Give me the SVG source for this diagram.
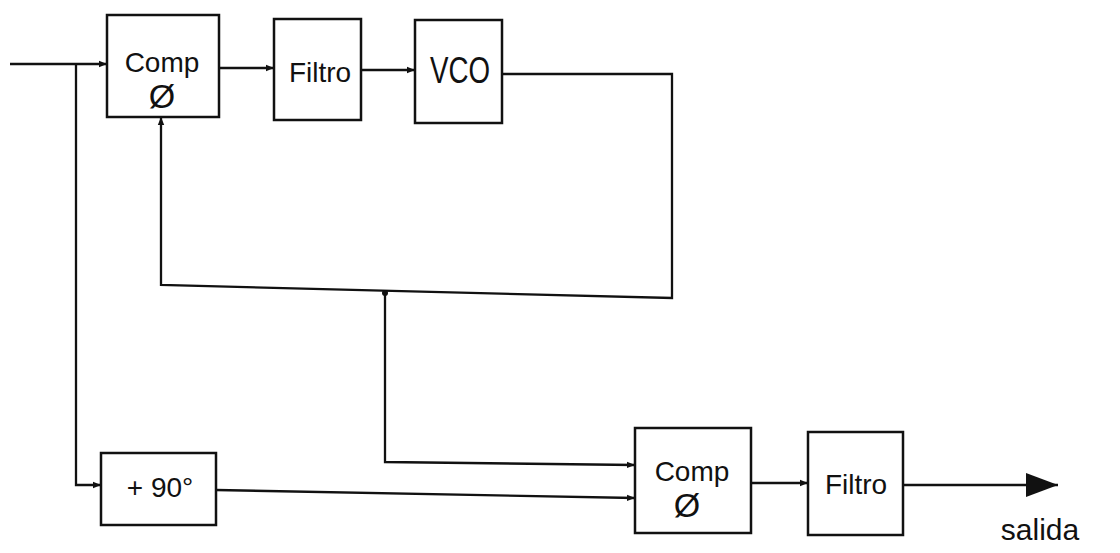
<svg xmlns="http://www.w3.org/2000/svg" width="1120" height="553" viewBox="0 0 1120 553">
<defs>
<marker id="arr" viewBox="0 0 10 10" refX="10" refY="5" markerWidth="8" markerHeight="8" markerUnits="userSpaceOnUse" orient="auto">
<path d="M0,1 L10,5 L0,9 Z" fill="#111"/>
</marker>
<marker id="big" viewBox="0 0 10 10" refX="10" refY="5" markerWidth="32" markerHeight="24" markerUnits="userSpaceOnUse" orient="auto" preserveAspectRatio="none">
<path d="M0,0 L10,5 L0,10 Z" fill="#111"/>
</marker>
<style>
.box{fill:#fff;stroke:#111;stroke-width:2.5}
.ln{fill:none;stroke:#111;stroke-width:2.3}
.t{font-family:"Liberation Sans",Arial,sans-serif;fill:#111;text-anchor:middle}
</style>
</defs>
<rect width="1120" height="553" fill="#fff"/>
<g id="connectors">
<path class="ln" d="M10,64 L107,64" marker-end="url(#arr)"/>
<path class="ln" d="M76,64 L76,485 L101,485" marker-end="url(#arr)"/>
<path class="ln" d="M219,68 L274,68" marker-end="url(#arr)"/>
<path class="ln" d="M361,70 L415,70" marker-end="url(#arr)"/>
<path class="ln" d="M502,74 L672,74 L672,298 L161,285 L161,117" marker-end="url(#arr)"/>
<path class="ln" d="M385,293 L385,462 L635,465" marker-end="url(#arr)"/>
<circle cx="385" cy="293" r="3" fill="#111"/>
<path class="ln" d="M216,490 L635,498" marker-end="url(#arr)"/>
<path class="ln" d="M751,483 L808,483" marker-end="url(#arr)"/>
<path class="ln" d="M903,485 L1058,485" marker-end="url(#big)"/>
</g>
<g id="comp1">
<rect class="box" x="107" y="15" width="112" height="102"/>
<text class="t" x="162" y="72" font-size="28">Comp</text>
<text class="t" x="162" y="108" font-size="34">Ø</text>
</g>
<g id="filtro1">
<rect class="box" x="274" y="19" width="87" height="101"/>
<text class="t" x="320" y="82" font-size="28">Filtro</text>
</g>
<g id="vco">
<rect class="box" x="415" y="20" width="87" height="103"/>
<text class="t" x="460" y="83" font-size="36" textLength="60" lengthAdjust="spacingAndGlyphs">VCO</text>
</g>
<g id="shift90">
<rect class="box" x="101" y="453" width="115" height="72"/>
<text class="t" x="160" y="497" font-size="28">+ 90°</text>
</g>
<g id="comp2">
<rect class="box" x="635" y="428" width="116" height="105"/>
<text class="t" x="692" y="481" font-size="28">Comp</text>
<text class="t" x="687" y="517" font-size="34">Ø</text>
</g>
<g id="filtro2">
<rect class="box" x="808" y="432" width="95" height="103"/>
<text class="t" x="856" y="494" font-size="28">Filtro</text>
</g>
<g id="label">
<text class="t" x="1040" y="540" font-size="30">salida</text>
</g>
</svg>
